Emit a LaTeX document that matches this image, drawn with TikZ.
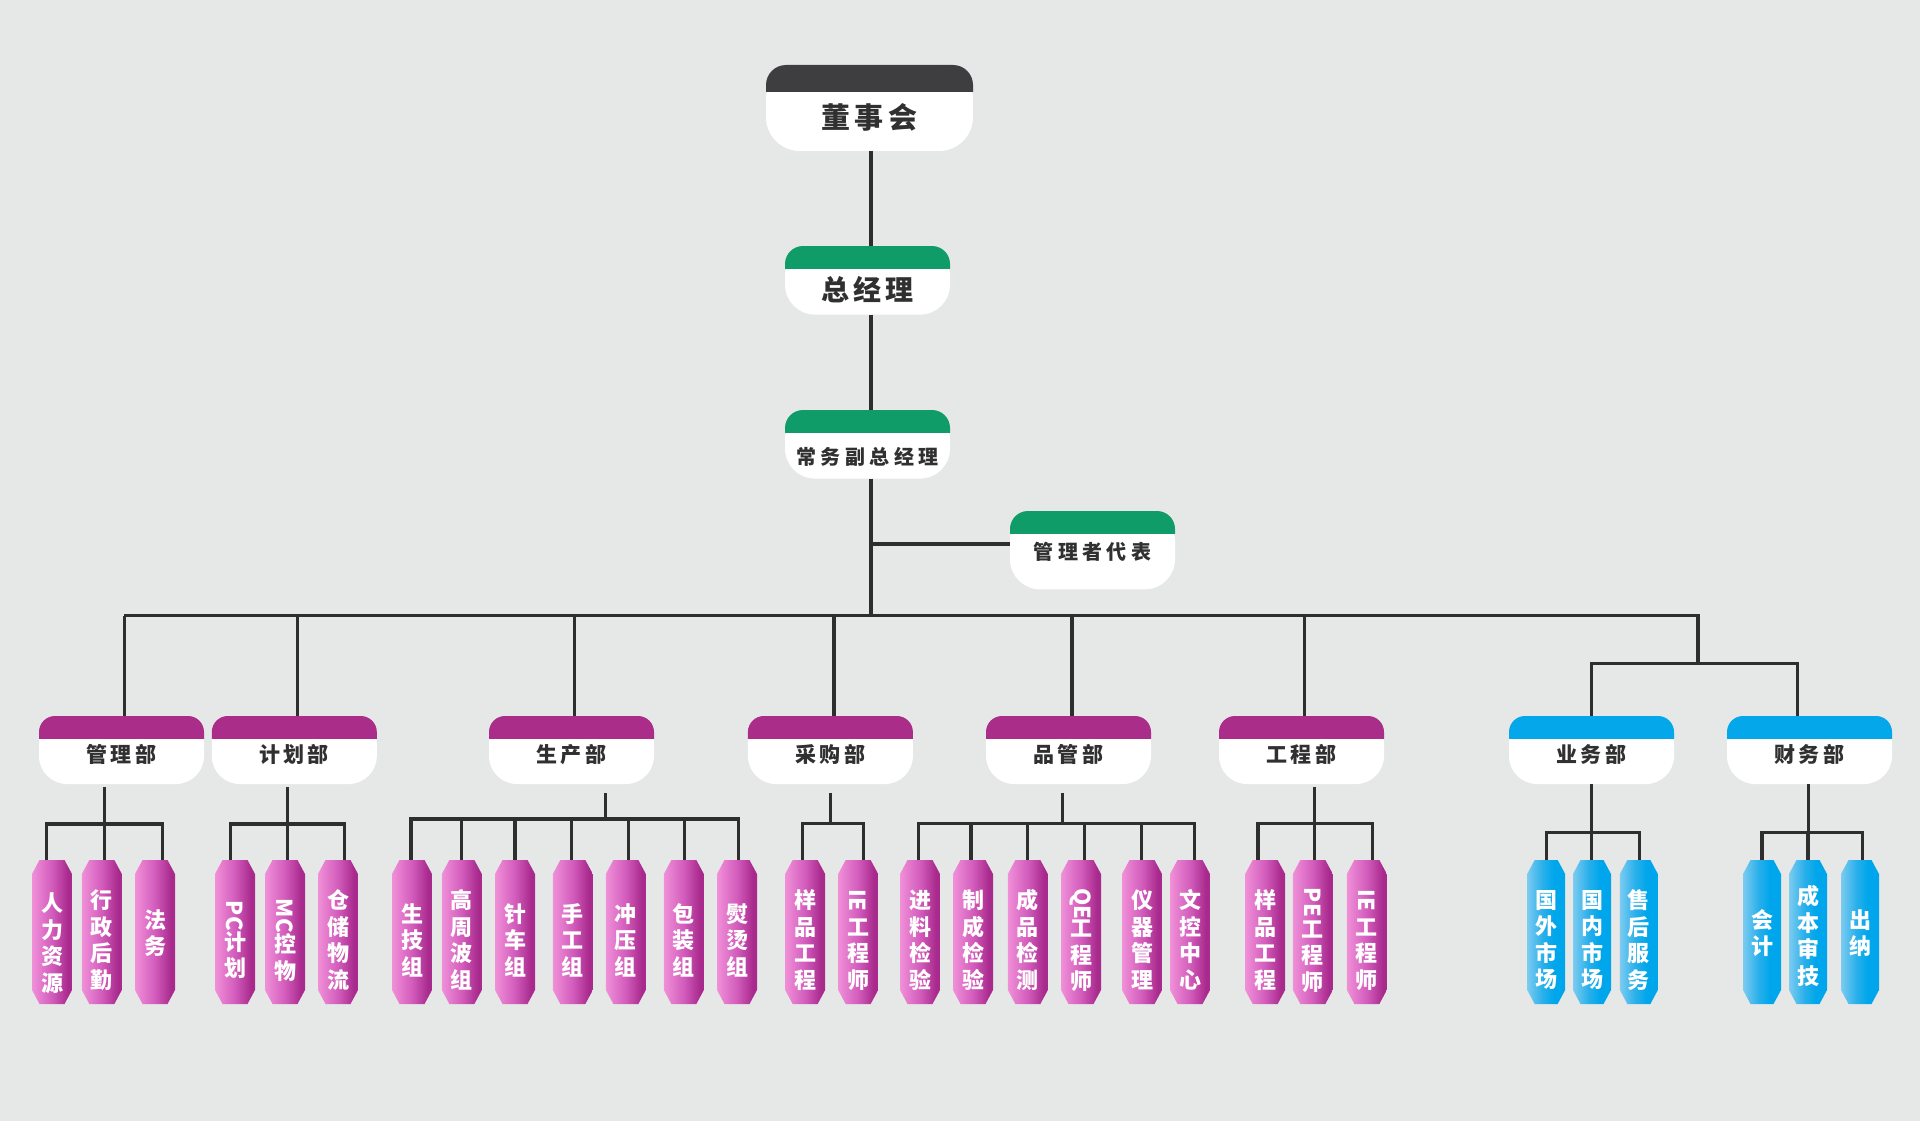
\documentclass[tikz,border=0pt]{standalone}
\usepackage{fontspec}
\usepackage{graphicx}
\setmainfont{Noto Sans CJK SC}
\newfontfamily\hfont{Noto Sans CJK SC}[LetterSpace=15]
\newfontfamily\hfontw{Noto Sans CJK SC}[LetterSpace=22]
\usetikzlibrary{calc}
\definecolor{bg}{HTML}{E6E8E7}
\definecolor{ln}{HTML}{2E2E2E}
\definecolor{txt}{HTML}{303030}
\definecolor{hdark}{HTML}{3E3E40}
\definecolor{hgreen}{HTML}{0F9C69}
\definecolor{hmag}{HTML}{AA2D89}
\definecolor{hblue}{HTML}{03A7EA}
\definecolor{pkL}{HTML}{F090D8}
\definecolor{pkM}{HTML}{D25CBC}
\definecolor{pkR}{HTML}{A82A8C}
\definecolor{blL}{HTML}{7CCBF0}
\definecolor{blM}{HTML}{2AB0EB}
\definecolor{blR}{HTML}{00A6EB}
\pgfdeclarehorizontalshading{pinkshade}{100bp}{color(0bp)=(pkL); color(25bp)=(pkL); color(50bp)=(pkM); color(70bp)=(pkR); color(100bp)=(pkR)}
\pgfdeclarehorizontalshading{blueshade}{100bp}{color(0bp)=(blL); color(25bp)=(blL); color(45bp)=(blM); color(60bp)=(blR); color(100bp)=(blR)}
\newcommand\vt[2][-8pt]{\raisebox{#1}[0pt][0pt]{\vbox to 0pt{\vss\halign{\hfil##\hfil\cr#2\crcr}\vss}}}
\newcommand\rl[1]{\rotatebox[origin=c]{-90}{#1}}
\tikzset{
  conn/.style={draw=ln, line width=3.5pt},
  spineline/.style={draw=ln, line width=4pt},
  subconn/.style={draw=ln, line width=3.2pt},
  orgbox/.style n args={4}{inner sep=0pt, outer sep=0pt, text=txt,
    path picture={
      \path (path picture bounding box.south west) coordinate (q1)
            (path picture bounding box.north east) coordinate (q2)
            (path picture bounding box.north west) coordinate (q3)
            (path picture bounding box.south east) coordinate (q4);
      \fill[white, rounded corners=#4] (q1) rectangle (q2);
      \begin{scope}
        \clip (q3) rectangle ([yshift=-#2]q2);
        \fill[#1, rounded corners=#3] (q3) rectangle ([yshift=-50pt]q2);
      \end{scope}
    }},
  topbox/.style={orgbox={hgreen}{22pt}{18pt}{30pt}, minimum width=165pt},
  dept/.style={orgbox={hmag}{22pt}{16pt}{28pt}, minimum width=165pt,
    text height=46pt, text depth=22pt, font=\hfont\bfseries\fontsize{21}{21}\selectfont},
  bdept/.style={dept, orgbox={hblue}{22pt}{16pt}{28pt}},
  pill/.style={inner sep=0pt, outer sep=0pt, minimum height=144pt, text=white,
    font=\bfseries\fontsize{22}{26.5}\selectfont,
    path picture={
      \path (path picture bounding box.south west) coordinate (q1)
            (path picture bounding box.north east) coordinate (q2)
            (path picture bounding box.north west) coordinate (q3)
            (path picture bounding box.south east) coordinate (q4);
      \shade[shading=#1] ([xshift=7.5pt]q3) -- ([xshift=-7.5pt]q2) -- ([yshift=-14pt]q2)
        -- ([yshift=14pt]q4) -- ([xshift=-7.5pt]q4) -- ([xshift=7.5pt]q1)
        -- ([yshift=14pt]q1) -- ([yshift=-14pt]q3) -- cycle;
    }},
  pinkp/.style={pill=pinkshade, minimum width=40pt},
  bluep/.style={pill=blueshade, minimum width=38pt}
}
\begin{document}
\begin{tikzpicture}[x=1pt,y=-1pt]
\fill[bg] (0,0) rectangle (1920,1121);
\useasboundingbox (0,0) rectangle (1920,1121);

% top level
\node[orgbox={hdark}{27pt}{20pt}{34pt}, minimum width=207pt, text height=63.9pt, text depth=22.1pt,
      font=\hfont\bfseries\fontsize{29}{29}\selectfont] (board) at (869.5,108) {董事会};
\node[topbox, text height=54.6pt, text depth=14pt, font=\hfont\bfseries\fontsize{28}{28}\selectfont] (gm) at (867.5,280.3) {总经理};
\node[topbox, text height=54.4pt, text depth=14.2pt, font=\hfontw\bfseries\fontsize{20}{20}\selectfont] (vgm) at (867.5,444.3) {常务副总经理};
\node[topbox, text height=48.2pt, text depth=30.1pt, font=\hfontw\bfseries\fontsize{20}{20}\selectfont] (rep) at (1092.5,550.15) {管理者代表};

% departments
\node[dept] (d1) at (121.5,750) {管理部};
\node[dept] (d2) at (294.3,750) {计划部};
\node[dept] (d3) at (571.5,750) {生产部};
\node[dept] (d4) at (830.4,750) {采购部};
\node[dept] (d5) at (1068.5,750) {品管部};
\node[dept] (d6) at (1301.5,750) {工程部};
\node[bdept] (d7) at (1591.5,750) {业务部};
\node[bdept] (d8) at (1809.5,750) {财务部};

% pills
\node[pinkp] (p11) at (52,932) {\vt[-11pt]{人\cr 力\cr 资\cr 源}};
\node[pinkp] (p12) at (101.85,932) {\vt{行\cr 政\cr 后\cr 勤}};
\node[pinkp] (p13) at (155,932) {\vt[-1pt]{法\cr 务}};

\node[pinkp] (p21) at (235,932) {\vt{\rl{PC}\cr 计\cr 划}};
\node[pinkp] (p22) at (285,932) {\vt{\rl{MC}\cr 控\cr 物}};
\node[pinkp] (p23) at (338,932) {\vt{仓\cr 储\cr 物\cr 流}};

\node[pinkp] (p31) at (412,932) {\vt{生\cr 技\cr 组}};
\node[pinkp] (p32) at (461.85,932) {\vt{高\cr 周\cr 波\cr 组}};
\node[pinkp] (p33) at (515,932) {\vt{针\cr 车\cr 组}};
\node[pinkp] (p34) at (572.85,932) {\vt{手\cr 工\cr 组}};
\node[pinkp] (p35) at (625.85,932) {\vt{冲\cr 压\cr 组}};
\node[pinkp] (p36) at (683.85,932) {\vt{包\cr 装\cr 组}};
\node[pinkp] (p37) at (737,932) {\vt{熨\cr 烫\cr 组}};

\node[pinkp] (p41) at (805.15,932) {\vt{样\cr 品\cr 工\cr 程}};
\node[pinkp] (p42) at (858.15,932) {\vt{\rl{IE}\cr 工\cr 程\cr 师}};

\node[pinkp] (p51) at (920,932) {\vt{进\cr 料\cr 检\cr 验}};
\node[pinkp] (p52) at (973,932) {\vt{制\cr 成\cr 检\cr 验}};
\node[pinkp] (p53) at (1027.85,932) {\vt{成\cr 品\cr 检\cr 测}};
\node[pinkp] (p54) at (1081,932) {\vt{\rl{QE}\cr 工\cr 程\cr 师}};
\node[pinkp] (p55) at (1142,932) {\vt{仪\cr 器\cr 管\cr 理}};
\node[pinkp] (p56) at (1190,932) {\vt{文\cr 控\cr 中\cr 心}};

\node[pinkp] (p61) at (1265.15,932) {\vt{样\cr 品\cr 工\cr 程}};
\node[pinkp] (p62) at (1312.85,932) {\vt{\rl{PE}\cr 工\cr 程\cr 师}};
\node[pinkp] (p63) at (1366.85,932) {\vt{\rl{IE}\cr 工\cr 程\cr 师}};

\node[bluep] (p71) at (1546.15,932) {\vt{国\cr 外\cr 市\cr 场}};
\node[bluep] (p72) at (1592,932) {\vt{国\cr 内\cr 市\cr 场}};
\node[bluep] (p73) at (1638.85,932) {\vt{售\cr 后\cr 服\cr 务}};

\node[bluep] (p81) at (1762,932) {\vt[-1pt]{会\cr 计}};
\node[bluep] (p82) at (1808,932) {\vt[-4pt]{成\cr 本\cr 审\cr 技}};
\node[bluep] (p83) at (1860,932) {\vt[-1pt]{出\cr 纳}};

% spine
\coordinate (spine) at (871,0);
\coordinate (busL) at (124.3,615.7);
\coordinate (busR) at (1697.8,615.7);
\coordinate (bus2) at (1697.8,663.3);
\draw[spineline] (board.south -| spine) -- (gm.north -| spine);
\draw[spineline] (gm.south -| spine) -- (vgm.north -| spine);
\draw[spineline] (vgm.south -| spine) -- (spine |- busL);
\draw[spineline] ([yshift=6.25pt]rep.west) -- ([yshift=6.25pt]rep.west -| spine);

% main bus
\draw[conn] (busL) -- (busR) -- (bus2);
\draw[conn] ([xshift=2.8pt]d1.north) |- (busL);
\draw[conn] ([xshift=3.3pt]d2.north) |- (busL);
\draw[conn] ([xshift=2.9pt]d3.north) |- (busL);
\draw[conn] ([xshift=3.6pt]d4.north) |- (busL);
\draw[conn] ([xshift=3.5pt]d5.north) |- (busL);
\draw[conn] ([xshift=3.2pt]d6.north) |- (busL);
\draw[conn] (d7.north) |- (bus2);
\draw[conn] ([xshift=-11.8pt]d8.north) |- (bus2);

% sub groups
\coordinate (b1) at (104.3,824);
\coordinate (b2) at (287.3,824);
\coordinate (b3) at (605.7,819);
\coordinate (b4) at (830.3,823.7);
\coordinate (b5) at (1062.3,823.3);
\coordinate (b6) at (1314.3,823.3);
\coordinate (b7) at (1591.3,832.7);
\coordinate (b8) at (1808.3,832.7);

\draw[subconn] (b1) -- ([yshift=-3.3pt]b1 |- d1.south);
\draw[subconn] ([xshift=-5.3pt]p11.north) |- (b1) -| ([xshift=7.7pt]p13.north);
\draw[subconn] ([xshift=2.45pt]p12.north) |- (b1);

\draw[subconn] (b2) -- ([yshift=-3.3pt]b2 |- d2.south);
\draw[subconn] ([xshift=-4.7pt]p21.north) |- (b2) -| ([xshift=6.3pt]p23.north);
\draw[subconn] ([xshift=2.3pt]p22.north) |- (b2);

\draw[subconn] (b3) -- ([yshift=-9.3pt]b3 |- d3.south);
\draw[subconn] ([xshift=-1pt]p31.north) |- (b3) -| ([xshift=1.3pt]p37.north);
\draw[subconn] (p32.north) |- (b3);
\draw[subconn] (p33.north) |- (b3);
\draw[subconn] ([xshift=-1.5pt]p34.north) |- (b3);
\draw[subconn] ([xshift=2.5pt]p35.north) |- (b3);
\draw[subconn] ([xshift=1pt]p36.north) |- (b3);

\draw[subconn] (b4) -- ([yshift=-9.3pt]b4 |- d4.south);
\draw[subconn] ([xshift=-2.9pt]p41.north) |- (b4) -| ([xshift=5.2pt]p42.north);

\draw[subconn] (b5) -- ([yshift=-9.3pt]b5 |- d5.south);
\draw[subconn] ([xshift=-1.7pt]p51.north) |- (b5) -| ([xshift=4.3pt]p56.north);
\draw[subconn] ([xshift=-2pt]p52.north) |- (b5);
\draw[subconn] ([xshift=-0.5pt]p53.north) |- (b5);
\draw[subconn] ([xshift=3.3pt]p54.north) |- (b5);
\draw[subconn] ([xshift=-0.7pt]p55.north) |- (b5);

\draw[subconn] (b6) -- ([yshift=-3.3pt]b6 |- d6.south);
\draw[subconn] ([xshift=-7.2pt]p61.north) |- (b6) -| ([xshift=5.8pt]p63.north);
\draw[subconn] ([xshift=1.5pt]p62.north) |- (b6);

\draw[subconn] (b7) -- (b7 |- d7.south);
\draw[subconn] (p71.north) |- (b7) -| ([xshift=0.5pt]p73.north);
\draw[subconn] ([xshift=-0.7pt]p72.north) |- (b7);

\draw[subconn] (b8) -- (b8 |- d8.south);
\draw[subconn] (p81.north) |- (b8) -| ([xshift=2.7pt]p83.north);
\draw[subconn] (p82.north) |- (b8);
\end{tikzpicture}
\end{document}
